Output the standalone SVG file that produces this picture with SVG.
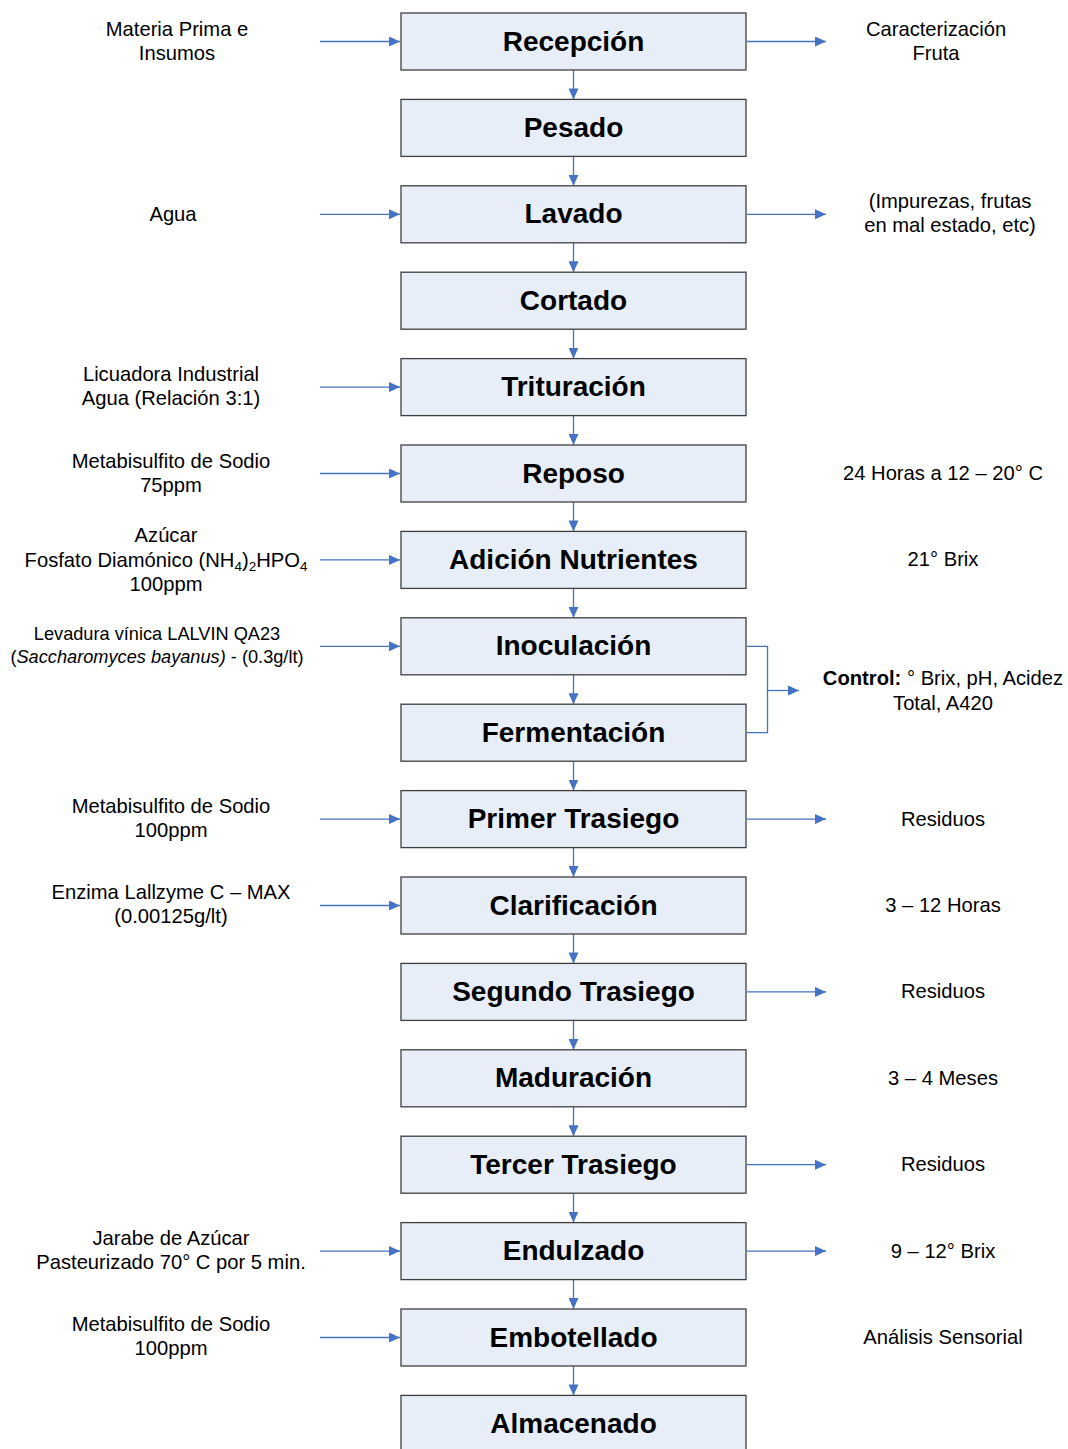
<svg xmlns="http://www.w3.org/2000/svg" width="1068" height="1449" viewBox="0 0 1068 1449">
<style>
.box{fill:#E7EEF8;stroke:#3F3F3F;stroke-width:1.3}
.bt{font-family:"Liberation Sans",Arial,sans-serif;font-weight:bold;font-size:28px;fill:#000;text-anchor:middle}
.st{font-family:"Liberation Sans",Arial,sans-serif;font-size:20.2px;fill:#000;text-anchor:middle}
.sm{font-family:"Liberation Sans",Arial,sans-serif;font-size:18.2px;fill:#000;text-anchor:middle}
.ln{stroke:#4472C4;stroke-width:1.3;fill:none}
</style>
<defs>
<marker id="ah" markerWidth="12" markerHeight="10" refX="11" refY="5" orient="auto" markerUnits="userSpaceOnUse">
<path d="M0,0 L11,5 L0,10 Z" fill="#4472C4"/>
</marker>
</defs>
<rect width="1068" height="1449" fill="#fff"/>
<g id="connectors">
<path class="ln" marker-end="url(#ah)" d="M573.5,70 V99.4"/>
<path class="ln" marker-end="url(#ah)" d="M573.5,156.4 V185.8"/>
<path class="ln" marker-end="url(#ah)" d="M573.5,242.8 V272.2"/>
<path class="ln" marker-end="url(#ah)" d="M573.5,329.2 V358.6"/>
<path class="ln" marker-end="url(#ah)" d="M573.5,415.6 V445"/>
<path class="ln" marker-end="url(#ah)" d="M573.5,502 V531.4"/>
<path class="ln" marker-end="url(#ah)" d="M573.5,588.4 V617.8"/>
<path class="ln" marker-end="url(#ah)" d="M573.5,674.8 V704.2"/>
<path class="ln" marker-end="url(#ah)" d="M573.5,761.2 V790.6"/>
<path class="ln" marker-end="url(#ah)" d="M573.5,847.6 V877"/>
<path class="ln" marker-end="url(#ah)" d="M573.5,934 V963.4"/>
<path class="ln" marker-end="url(#ah)" d="M573.5,1020.4 V1049.8"/>
<path class="ln" marker-end="url(#ah)" d="M573.5,1106.8 V1136.2"/>
<path class="ln" marker-end="url(#ah)" d="M573.5,1193.2 V1222.6"/>
<path class="ln" marker-end="url(#ah)" d="M573.5,1279.6 V1309"/>
<path class="ln" marker-end="url(#ah)" d="M573.5,1366 V1395.4"/>
<path class="ln" marker-end="url(#ah)" d="M320,41.5 H400"/>
<path class="ln" marker-end="url(#ah)" d="M320,214.3 H400"/>
<path class="ln" marker-end="url(#ah)" d="M320,387.1 H400"/>
<path class="ln" marker-end="url(#ah)" d="M320,473.5 H400"/>
<path class="ln" marker-end="url(#ah)" d="M320,559.9 H400"/>
<path class="ln" marker-end="url(#ah)" d="M320,646.3 H400"/>
<path class="ln" marker-end="url(#ah)" d="M320,819.1 H400"/>
<path class="ln" marker-end="url(#ah)" d="M320,905.5 H400"/>
<path class="ln" marker-end="url(#ah)" d="M320,1251.1 H400"/>
<path class="ln" marker-end="url(#ah)" d="M320,1337.5 H400"/>
<path class="ln" marker-end="url(#ah)" d="M747,41.5 H826"/>
<path class="ln" marker-end="url(#ah)" d="M747,214.3 H826"/>
<path class="ln" marker-end="url(#ah)" d="M747,819.1 H826"/>
<path class="ln" marker-end="url(#ah)" d="M747,991.9 H826"/>
<path class="ln" marker-end="url(#ah)" d="M747,1164.7 H826"/>
<path class="ln" marker-end="url(#ah)" d="M747,1251.1 H826"/>
<path class="ln" d="M747,646.3 H767.5 V732.7 H747"/>
<path class="ln" marker-end="url(#ah)" d="M767.5,690.5 H799"/>
</g>
<g id="n0"><rect class="box" x="401" y="13" width="345" height="57"/><text class="bt" x="573.5" y="50.5">Recepción</text></g>
<g id="n1"><rect class="box" x="401" y="99.4" width="345" height="57"/><text class="bt" x="573.5" y="136.9">Pesado</text></g>
<g id="n2"><rect class="box" x="401" y="185.8" width="345" height="57"/><text class="bt" x="573.5" y="223.3">Lavado</text></g>
<g id="n3"><rect class="box" x="401" y="272.2" width="345" height="57"/><text class="bt" x="573.5" y="309.7">Cortado</text></g>
<g id="n4"><rect class="box" x="401" y="358.6" width="345" height="57"/><text class="bt" x="573.5" y="396.1">Trituración</text></g>
<g id="n5"><rect class="box" x="401" y="445" width="345" height="57"/><text class="bt" x="573.5" y="482.5">Reposo</text></g>
<g id="n6"><rect class="box" x="401" y="531.4" width="345" height="57"/><text class="bt" x="573.5" y="568.9">Adición Nutrientes</text></g>
<g id="n7"><rect class="box" x="401" y="617.8" width="345" height="57"/><text class="bt" x="573.5" y="655.3">Inoculación</text></g>
<g id="n8"><rect class="box" x="401" y="704.2" width="345" height="57"/><text class="bt" x="573.5" y="741.7">Fermentación</text></g>
<g id="n9"><rect class="box" x="401" y="790.6" width="345" height="57"/><text class="bt" x="573.5" y="828.1">Primer Trasiego</text></g>
<g id="n10"><rect class="box" x="401" y="877" width="345" height="57"/><text class="bt" x="573.5" y="914.5">Clarificación</text></g>
<g id="n11"><rect class="box" x="401" y="963.4" width="345" height="57"/><text class="bt" x="573.5" y="1000.9">Segundo Trasiego</text></g>
<g id="n12"><rect class="box" x="401" y="1049.8" width="345" height="57"/><text class="bt" x="573.5" y="1087.3">Maduración</text></g>
<g id="n13"><rect class="box" x="401" y="1136.2" width="345" height="57"/><text class="bt" x="573.5" y="1173.7">Tercer Trasiego</text></g>
<g id="n14"><rect class="box" x="401" y="1222.6" width="345" height="57"/><text class="bt" x="573.5" y="1260.1">Endulzado</text></g>
<g id="n15"><rect class="box" x="401" y="1309" width="345" height="57"/><text class="bt" x="573.5" y="1346.5">Embotellado</text></g>
<g id="n16"><rect class="box" x="401" y="1395.4" width="345" height="57"/><text class="bt" x="573.5" y="1432.9">Almacenado</text></g>
<g id="left-labels">
<text class="st" x="177" y="36">Materia Prima e</text>
<text class="st" x="177" y="60">Insumos</text>
<text class="st" x="173" y="221">Agua</text>
<text class="st" x="171" y="381">Licuadora Industrial</text>
<text class="st" x="171" y="405">Agua (Relación 3:1)</text>
<text class="st" x="171" y="468">Metabisulfito de Sodio</text>
<text class="st" x="171" y="492">75ppm</text>
<text class="st" x="166" y="542">Azúcar</text>
<text class="st" x="166" y="567">Fosfato Diamónico (NH<tspan font-size="13.5" dy="4">4</tspan><tspan dy="-4">)</tspan><tspan font-size="13.5" dy="4">2</tspan><tspan dy="-4">HPO</tspan><tspan font-size="13.5" dy="4">4</tspan></text>
<text class="st" x="166" y="591">100ppm</text>
<text class="sm" x="157" y="640">Levadura vínica LALVIN QA23</text>
<text class="sm" x="157" y="663">(<tspan font-style="italic">Saccharomyces bayanus)</tspan> - (0.3g/lt)</text>
<text class="st" x="171" y="813">Metabisulfito de Sodio</text>
<text class="st" x="171" y="837">100ppm</text>
<text class="st" x="171" y="899">Enzima Lallzyme C – MAX</text>
<text class="st" x="171" y="923">(0.00125g/lt)</text>
<text class="st" x="171" y="1245">Jarabe de Azúcar</text>
<text class="st" x="171" y="1269">Pasteurizado 70° C por 5 min.</text>
<text class="st" x="171" y="1331">Metabisulfito de Sodio</text>
<text class="st" x="171" y="1355">100ppm</text>
</g>
<g id="right-labels">
<text class="st" x="936" y="36">Caracterización</text>
<text class="st" x="936" y="60">Fruta</text>
<text class="st" x="950" y="208">(Impurezas, frutas</text>
<text class="st" x="950" y="232">en mal estado, etc)</text>
<text class="st" x="943" y="480">24 Horas a 12 – 20° C</text>
<text class="st" x="943" y="566">21° Brix</text>
<text class="st" x="943" y="685"><tspan font-weight="bold">Control:</tspan> ° Brix, pH, Acidez</text>
<text class="st" x="943" y="710">Total, A420</text>
<text class="st" x="943" y="826">Residuos</text>
<text class="st" x="943" y="912">3 – 12 Horas</text>
<text class="st" x="943" y="998">Residuos</text>
<text class="st" x="943" y="1085">3 – 4 Meses</text>
<text class="st" x="943" y="1171">Residuos</text>
<text class="st" x="943" y="1258">9 – 12° Brix</text>
<text class="st" x="943" y="1344">Análisis Sensorial</text>
</g>
</svg>
